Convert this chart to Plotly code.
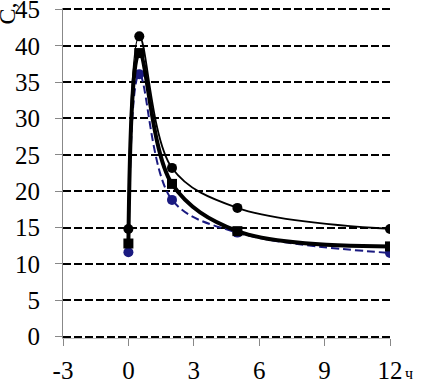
import plotly.graph_objects as go

hours = [0, 0.5, 2, 5, 12]
series_1 = [14.8, 41.3, 23.2, 17.7, 14.8]
series_2 = [12.8, 39.0, 21.0, 14.5, 12.4]
series_3 = [11.6, 36.1, 18.8, 14.3, 11.5]

x_ticks = [-3, 0, 3, 6, 9, 12]
x_tick_labels = ["-3", "0", "3", "6", "9", "12"]
y_ticks = [0, 5, 10, 15, 20, 25, 30, 35, 40, 45]

SERIF = "Liberation Serif, Times New Roman, serif"

fig = go.Figure()
fig.add_trace(go.Scatter(x=hours, y=series_3, mode="lines+markers",
                         line=dict(color="#1a1a80", width=2, dash="8px,4px", shape="spline", smoothing=1.0),
                         marker=dict(symbol="circle", size=10, color="#1a1a80")))
fig.add_trace(go.Scatter(x=hours, y=series_2, mode="lines+markers",
                         line=dict(color="black", width=4, shape="spline", smoothing=1.0),
                         marker=dict(symbol="square", size=10, color="black")))
fig.add_trace(go.Scatter(x=hours, y=series_1, mode="lines+markers",
                         line=dict(color="black", width=1.8, shape="spline", smoothing=1.0),
                         marker=dict(symbol="circle", size=10, color="black")))

font = dict(family=SERIF, size=25, color="black")
fig.update_layout(
    width=421, height=384,
    margin=dict(l=63, r=31, t=8, b=46),
    paper_bgcolor="white", plot_bgcolor="white",
    showlegend=False,
    font=font,
    xaxis=dict(range=[-3, 12], tickvals=x_ticks, ticktext=x_tick_labels,
               showgrid=False, zeroline=False,
               showline=True, linecolor="#bbb", linewidth=1,
               ticks="outside", ticklen=7, tickcolor="#888", ticklabelstandoff=3,
               tickfont=font, ticklabeloverflow="allow", automargin=False),
    yaxis=dict(range=[-0.2, 45.2], tickvals=y_ticks, showgrid=True, gridcolor="black",
               gridwidth=1.5, griddash="8px,3px", zeroline=False,
               showline=True, linecolor="#888", linewidth=1,
               ticks="outside", ticklen=7, tickcolor="#888", tickfont=font,
               ticklabelstandoff=10,
               ticklabeloverflow="allow", automargin=False),
    annotations=[
        dict(text="C,", xref="paper", yref="paper", x=-0.172, y=1.022, xanchor="center",
             yanchor="top", textangle=-90, showarrow=False,
             font=dict(family=SERIF, size=24, color="black")),
        dict(text="ч", xref="paper", yref="paper", x=1.057, y=-0.139, xanchor="center",
             yanchor="bottom", showarrow=False,
             font=dict(family=SERIF, size=16, color="black")),
    ],
)

fig.write_html("out.html", config={"displayModeBar": False},
               post_script="document.body.style.margin='0';document.body.style.overflow='hidden';")
